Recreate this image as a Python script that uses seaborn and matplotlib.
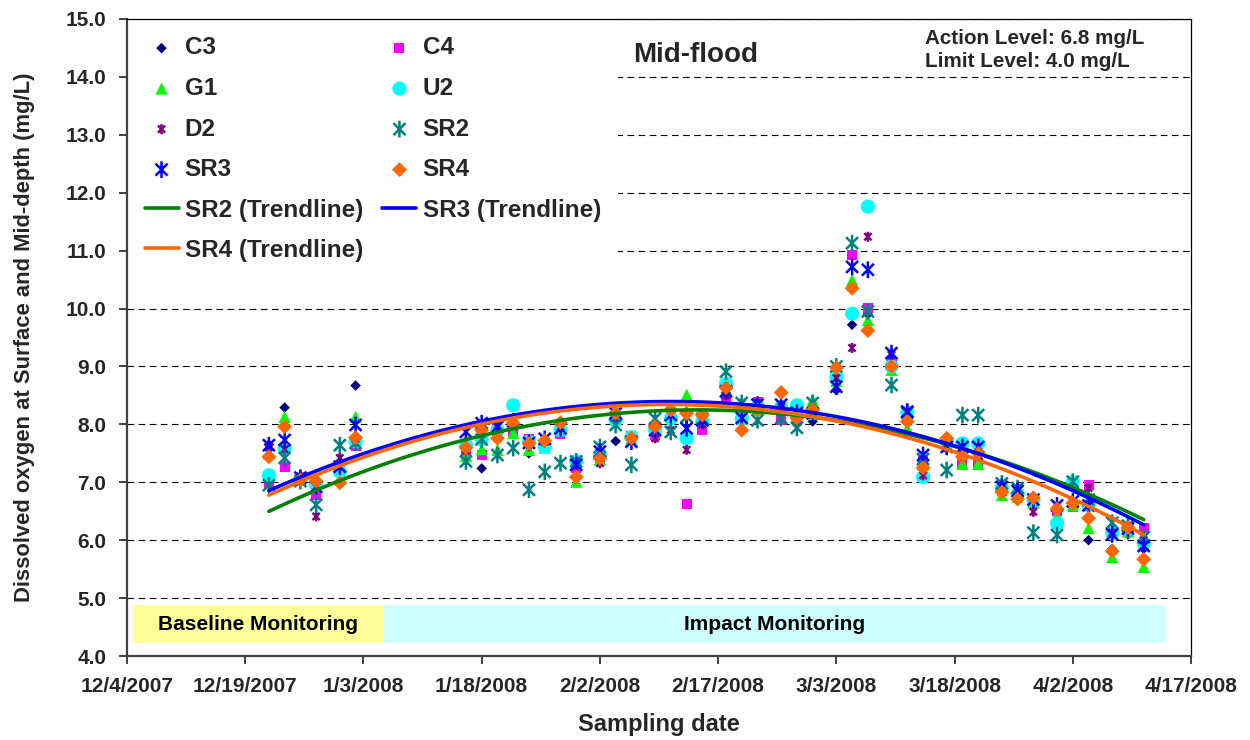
import numpy as np
import pandas as pd
import matplotlib
matplotlib.use("Agg")
import matplotlib.pyplot as plt
from matplotlib.path import Path
from matplotlib.markers import MarkerStyle
from matplotlib.patches import Rectangle
from matplotlib.font_manager import FontProperties
import seaborn as sns

# ---------------- data ----------------
dates = ['2007-12-22', '2007-12-24', '2007-12-26', '2007-12-28', '2007-12-31', '2008-01-02',
         '2008-01-16', '2008-01-18', '2008-01-20', '2008-01-22', '2008-01-24', '2008-01-26', '2008-01-28', '2008-01-30',
         '2008-02-02', '2008-02-04', '2008-02-06', '2008-02-09', '2008-02-11', '2008-02-13', '2008-02-15',
         '2008-02-18', '2008-02-20', '2008-02-22', '2008-02-25', '2008-02-27', '2008-02-29',
         '2008-03-03', '2008-03-05', '2008-03-07', '2008-03-10', '2008-03-12', '2008-03-14',
         '2008-03-17', '2008-03-19', '2008-03-21', '2008-03-24', '2008-03-26', '2008-03-28',
         '2008-03-31', '2008-04-02', '2008-04-04', '2008-04-07', '2008-04-09', '2008-04-11']

c3 = [7.65, 8.29, 7.10, 7.00, 7.30, 8.67,
      7.70, 7.24, 7.80, 7.90, 7.50, 7.65, 7.90, 7.30,
      7.45, 7.71, 7.75, 7.90, 8.10, 8.20, 8.10,
      8.55, 8.10, 8.30, 8.30, 8.00, 8.05,
      8.59, 9.72, 9.90, 9.10, 8.10, 7.35,
      7.60, 7.40, 7.40, 6.90, 6.80, 6.65,
      6.50, 6.60, 6.00, 5.85, 6.10, 5.85]
c4 = [6.99, 7.26, 7.05, 6.78, 7.20, 7.62,
      7.50, 7.47, 7.96, 7.84, 7.74, 7.65, 7.84, 7.24,
      7.40, 8.10, 7.80, 7.82, 8.20, 6.63, 7.91,
      8.46, 8.20, 8.38, 8.08, 8.10, 8.20,
      8.80, 10.93, 10.01, 9.05, 8.10, 7.38,
      7.61, 7.30, 7.30, 6.85, 6.75, 6.70,
      6.50, 6.58, 6.95, 6.10, 6.20, 6.21]
g1 = [7.50, 8.13, 7.05, 7.04, 7.25, 8.13,
      7.45, 7.57, 7.56, 7.85, 7.56, 7.60, 7.90, 7.01,
      7.39, 8.15, 7.75, 7.90, 8.20, 8.51, 8.10,
      8.60, 8.10, 8.25, 8.30, 8.15, 8.42,
      8.75, 10.49, 9.80, 8.94, 7.93, 7.30,
      7.67, 7.32, 7.32, 6.78, 6.75, 6.65,
      6.43, 6.60, 6.21, 5.71, 6.15, 5.54]
u2 = [7.12, 7.59, 7.05, 6.95, 7.18, 7.70,
      7.64, 7.74, 7.90, 8.33, 7.70, 7.61, 7.90, 7.36,
      7.47, 8.07, 7.78, 7.90, 8.10, 7.76, 8.05,
      8.70, 8.10, 8.30, 8.30, 8.33, 8.19,
      8.82, 9.91, 11.76, 9.00, 8.20, 7.09,
      7.70, 7.67, 7.67, 6.90, 6.80, 6.70,
      6.29, 7.00, 6.60, 6.12, 6.20, 5.95]
d2 = [7.60, 7.57, 7.10, 6.41, 7.42, 7.75,
      7.55, 7.95, 7.98, 8.00, 7.65, 7.70, 7.95, 7.36,
      7.33, 8.10, 7.75, 7.76, 7.90, 7.56, 8.00,
      8.50, 8.37, 8.37, 8.30, 8.10, 8.20,
      8.80, 9.32, 11.24, 9.20, 8.20, 7.12,
      7.60, 7.50, 7.50, 6.90, 6.90, 6.49,
      6.55, 6.65, 6.90, 6.13, 6.20, 6.00]
sr2 = [6.95, 7.42, 7.02, 6.61, 7.64, 7.68,
       7.36, 7.74, 7.47, 7.59, 6.87, 7.18, 7.33, 7.36,
       7.61, 7.99, 7.30, 8.10, 7.87, 8.13, 8.10,
       8.91, 8.37, 8.07, 8.11, 7.94, 8.37,
       9.00, 11.13, 9.95, 8.68, 8.20, 7.40,
       7.21, 8.16, 8.16, 6.98, 6.90, 6.13,
       6.09, 7.01, 6.70, 6.30, 6.25, 6.05]
sr3 = [7.64, 7.73, 7.08, 6.92, 7.27, 7.99,
       7.87, 8.02, 7.96, 8.05, 7.68, 7.75, 7.93, 7.30,
       7.53, 8.19, 7.70, 7.90, 8.16, 7.93, 8.07,
       8.57, 8.11, 8.34, 8.34, 8.20, 8.19,
       8.65, 10.72, 10.67, 9.23, 8.22, 7.47,
       7.61, 7.61, 7.61, 6.92, 6.85, 6.70,
       6.60, 6.67, 6.60, 6.10, 6.20, 5.90]
sr4 = [7.44, 7.96, 7.04, 7.02, 6.99, 7.77,
       7.60, 7.90, 7.76, 8.02, 7.67, 7.72, 8.03, 7.09,
       7.41, 8.19, 7.76, 7.96, 8.25, 8.19, 8.16,
       8.63, 7.90, 8.25, 8.55, 8.11, 8.25,
       8.98, 10.35, 9.62, 9.00, 8.05, 7.25,
       7.76, 7.44, 7.50, 6.83, 6.71, 6.73,
       6.54, 6.64, 6.38, 5.81, 6.22, 5.67]

x_tick_dates = ['2007-12-04', '2007-12-19', '2008-01-03', '2008-01-18', '2008-02-02',
                '2008-02-17', '2008-03-03', '2008-03-18', '2008-04-02', '2008-04-17']
x_tick_labels = ['12/4/2007', '12/19/2007', '1/3/2008', '1/18/2008', '2/2/2008',
                 '2/17/2008', '3/3/2008', '3/18/2008', '4/2/2008', '4/17/2008']
y_ticks = [4.0, 5.0, 6.0, 7.0, 8.0, 9.0, 10.0, 11.0, 12.0, 13.0, 14.0, 15.0]

band_labels = ['Baseline Monitoring', 'Impact Monitoring']
band_starts = ['2007-12-04 18:00', '2008-01-05 14:00']
band_ends = ['2008-01-05 14:00', '2008-04-13 16:00']
band_colors = ['#FFFF99', '#CCFFFF']
band_y = (4.22, 4.88)

# ---------------- style ----------------
sns.set_theme(style="white")
plt.rcParams['font.family'] = ['Liberation Sans', 'DejaVu Sans']
plt.rcParams['font.weight'] = 'bold'

star = MarkerStyle(Path([(0, -1), (0, 1), (-0.72, -0.72), (0.72, 0.72), (-0.72, 0.72), (0.72, -0.72)],
                        [Path.MOVETO, Path.LINETO, Path.MOVETO, Path.LINETO, Path.MOVETO, Path.LINETO]),
                   fillstyle='none')

series = [
    ('C3', c3, 'D', '#000080', 5.4, False),
    ('C4', c4, 's', '#FF00FF', 7.2, False),
    ('G1', g1, '^', '#00FF00', 8.8, False),
    ('U2', u2, 'o', '#00FFFF', 10.2, False),
    ('D2', d2, star, '#800080', 7.2, True),
    ('SR2', sr2, star, '#008080', 12.0, True),
    ('SR3', sr3, star, '#0000FF', 12.0, True),
    ('SR4', sr4, 'D', '#FF6600', 7.6, False),
]

fig = plt.figure(figsize=(12.5, 7.4), dpi=100)
ax = fig.add_axes([127 / 1250, 1 - 656 / 740, (1191 - 127) / 1250, (656 - 19) / 740])

xd = pd.to_datetime(dates)
for name, vals, mk, col, ms, line in series:
    if line:
        sns.scatterplot(x=xd, y=vals, marker=mk, s=ms ** 2, color=col, edgecolor=col,
                        linewidth=1.8, ax=ax, label=name, zorder=3)
    else:
        sns.scatterplot(x=xd, y=vals, marker=mk, s=ms ** 2, color=col, edgecolor='none',
                        linewidth=0, ax=ax, label=name, zorder=3)

# polynomial (order 2) trendlines, as in the original spreadsheet
days = (xd - xd[0]).days.values.astype(float)
xs_days = np.linspace(days[0], days[-1], 200)
xs_dates = xd[0] + pd.to_timedelta(xs_days, unit='D')
trends = [('SR2 (Trendline)', sr2, '#008000'),
          ('SR3 (Trendline)', sr3, '#0000FF'),
          ('SR4 (Trendline)', sr4, '#FF6600')]
for name, vals, col in trends:
    coef = np.polyfit(days, vals, 2)
    ys = np.polyval(coef, xs_days)
    sns.lineplot(x=xs_dates, y=ys, color=col, linewidth=2.6, ax=ax, label=name, zorder=4)

# bands
for lab, s0, s1, bc in zip(band_labels, band_starts, band_ends, band_colors):
    t0 = matplotlib.dates.date2num(pd.Timestamp(s0))
    t1 = matplotlib.dates.date2num(pd.Timestamp(s1))
    ax.add_patch(Rectangle((t0, band_y[0]), t1 - t0, band_y[1] - band_y[0],
                           facecolor=bc, edgecolor='none', zorder=1))
    ax.text((t0 + t1) / 2, (band_y[0] + band_y[1]) / 2, lab, ha='center', va='center',
            fontsize=15, fontweight='bold', color='black', zorder=2)

# axes
ax.set_xlim(pd.Timestamp(x_tick_dates[0]), pd.Timestamp(x_tick_dates[-1]))
ax.set_ylim(4.0, 15.0)
ax.set_xticks(pd.to_datetime(x_tick_dates))
ax.set_xticklabels(x_tick_labels)
ax.set_yticks(y_ticks)
ax.set_yticklabels([f"{v:.1f}" for v in y_ticks])
ax.tick_params(axis='both', which='major', labelsize=15, direction='out', length=6,
               width=1.4, color='#404040', bottom=True, left=True)
ax.tick_params(axis='y', pad=9)
ax.tick_params(axis='x', pad=9)
for lab in ax.get_xticklabels() + ax.get_yticklabels():
    lab.set_fontweight('bold')

ax.yaxis.grid(True, linestyle=(0, (6, 4)), color='black', linewidth=0.8)
ax.xaxis.grid(False)
ax.set_axisbelow(True)

for side in ['left', 'bottom']:
    ax.spines[side].set_color('#404040')
    ax.spines[side].set_linewidth(1.6)
for side in ['top', 'right']:
    ax.spines[side].set_color('black')
    ax.spines[side].set_linewidth(0.9)
for sp in ax.spines.values():
    sp.set_visible(True)
    sp.set_zorder(10)

ax.set_xlabel('Sampling date', fontsize=17, fontweight='bold', labelpad=12)
ax.set_ylabel('Dissolved oxygen at Surface and Mid-depth (mg/L)', fontsize=15.8,
              fontweight='bold', labelpad=22)

ax.text(0.534, 0.9435, 'Mid-flood', transform=ax.transAxes, ha='center', va='center',
        fontsize=20, fontweight='bold')
ax.text(0.75, 0.969, 'Action Level: 6.8 mg/L', transform=ax.transAxes, ha='left',
        va='center', fontsize=14.9, fontweight='bold')
ax.text(0.75, 0.933, 'Limit Level: 4.0 mg/L', transform=ax.transAxes, ha='left',
        va='center', fontsize=14.9, fontweight='bold')

# legend (row-wise order like the original, two columns)
handles, labels = ax.get_legend_handles_labels()
hmap = dict(zip(labels, handles))
order = ['C3', 'G1', 'D2', 'SR3', 'SR2 (Trendline)', 'SR4 (Trendline)',
         'C4', 'U2', 'SR2', 'SR4', 'SR3 (Trendline)']
leg = ax.legend([hmap[k] for k in order], order, loc='upper left', bbox_to_anchor=(0, 1),
                ncol=2, frameon=True, facecolor='white', edgecolor='none', framealpha=1,
                fancybox=False, prop=FontProperties(family='Liberation Sans', weight='bold', size=17.5),
                borderpad=0.72, labelspacing=0.72, handlelength=1.4, handletextpad=0.25,
                columnspacing=0.8, borderaxespad=0.0, markerscale=1.0)
leg.set_zorder(6)

fig.savefig('out.png', dpi=100)
